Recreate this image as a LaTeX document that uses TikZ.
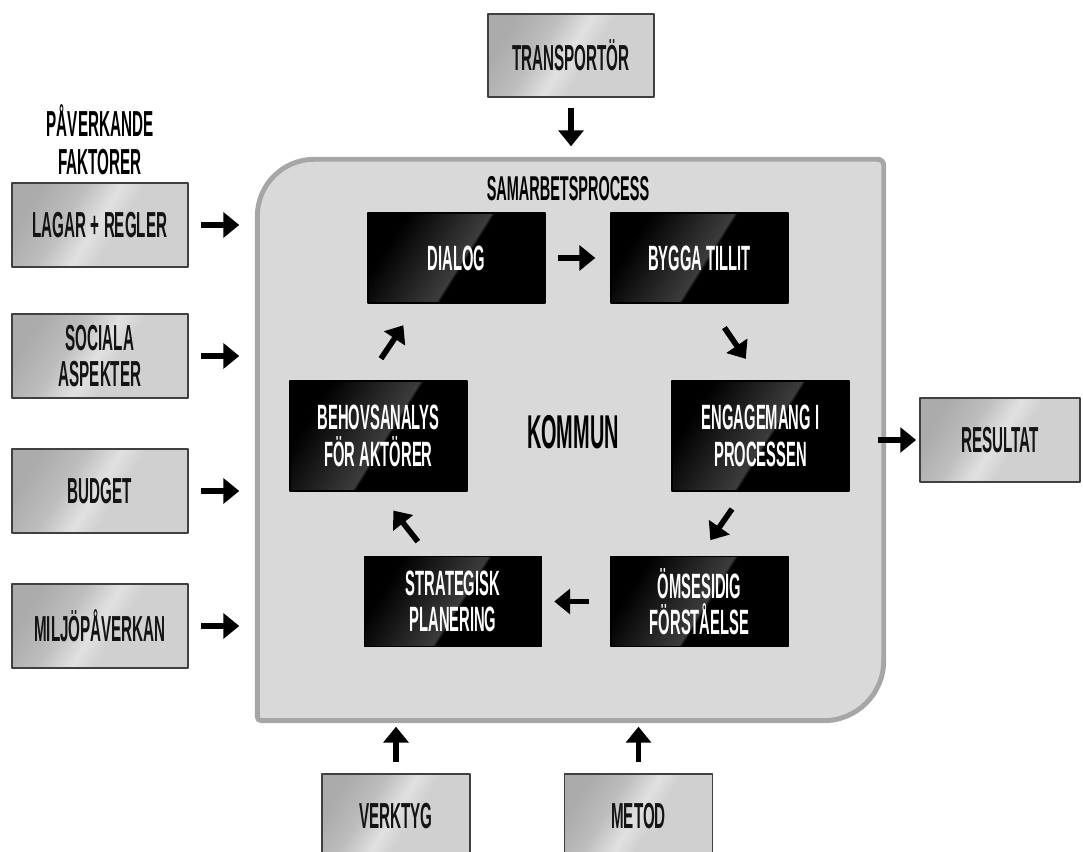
\documentclass[tikz,border=0pt]{standalone}
\usepackage{fontspec}
\newfontfamily\bebas[FakeStretch=0.42]{Liberation Sans}
\usetikzlibrary{arrows.meta}
\definecolor{silverA}{HTML}{ABABAB}
\definecolor{silverB}{HTML}{BDBDBD}
\definecolor{silverC}{HTML}{E1E1E1}
\definecolor{silverD}{HTML}{D0D0D0}
\definecolor{glossA}{HTML}{3C3C3C}
\definecolor{procfill}{HTML}{D9D9D9}
\definecolor{procline}{HTML}{A6A6A6}
\pgfdeclarehorizontalshading{silver}{100bp}{color(0bp)=(silverA); color(25bp)=(silverA); color(38bp)=(silverB); color(49bp)=(silverC); color(56bp)=(silverD); color(100bp)=(silverD)}
\pgfdeclarehorizontalshading{gloss}{100bp}{color(0bp)=(black); color(27bp)=(black); color(52bp)=(glossA); color(53bp)=(black); color(100bp)=(black)}
\tikzset{
  gbox/.style={draw=black!75,line width=.5pt,shade,shading=silver,shading angle=-32,minimum width=1.76cm,minimum height=.84cm,inner sep=0pt,align=center,text=black!92,font=\bebas\bfseries\fontsize{10.3}{10.1}\selectfont},
  bbox/.style={draw=black,shade,shading=gloss,shading angle=-32,minimum width=1.77cm,minimum height=.9cm,inner sep=0pt,align=center,text=white,font=\bebas\bfseries\fontsize{10}{10.4}\selectfont},
  arr/.style={line width=1.6pt,-{Triangle[width=7pt,length=4.5pt]}},
}
\begin{document}
\begin{tikzpicture}[line join=round]
  \useasboundingbox (0,0) rectangle (10.83,8.52);
  % samarbetsprocess
  \node[minimum width=6.25cm,minimum height=5.6cm,inner sep=0pt] (proc) at (5.705,4.12) {};
  \draw[line width=1.4pt,draw=procline,fill=procfill] ([yshift=.04cm]proc.south west)
    -- ([yshift=-.57cm]proc.north west) arc[start angle=180,end angle=90,radius=.57]
    -- ([xshift=-.06cm]proc.north east) arc[start angle=90,end angle=0,radius=.06]
    -- ([yshift=.6cm]proc.south east) arc[start angle=0,end angle=-90,radius=.6]
    -- ([xshift=.04cm]proc.south west) arc[start angle=270,end angle=180,radius=.04] -- cycle;
  \node[font=\bebas\bfseries\fontsize{9.8}{10}\selectfont] (samarb) at (5.68,6.63) {SAMARBETSPROCESS};
  \node[font=\bebas\bfseries\fontsize{13.5}{14}\selectfont] (kommun) at (5.73,4.20) {KOMMUN};
  % faktorer
  \node[font=\bebas\bfseries\fontsize{10.3}{10.8}\selectfont,align=center] (title) at (1.00,7.125) {PÅVERKANDE\\FAKTORER};
  \foreach \n/\y/\t in {lagar/6.27/LAGAR + REGLER,sociala/4.96/SOCIALA\\ASPEKTER,budget/3.61/BUDGET,miljo/2.26/MILJÖPÅVERKAN}{
    \node[gbox] (\n) at (1.00,\y) {\t};
    \draw[arr,shorten <=.12cm,shorten >=.18cm] (\n) -- (\n -| proc.west);}
  \node[gbox,minimum width=1.66cm,minimum height=.83cm] (transp) at (5.71,7.965) {TRANSPORTÖR};
  \draw[arr,shorten <=.10cm,shorten >=.13cm] (transp) -- (transp |- proc.north);
  \node[gbox,minimum width=1.48cm] (verktyg) at (3.96,.36) {VERKTYG};
  \node[gbox,minimum width=1.48cm] (metod) at (6.385,.36) {METOD};
  \foreach \n in {verktyg,metod}{
    \draw[arr,shorten <=.11cm,shorten >=.06cm] (\n) -- (\n |- proc.south);}
  \node[gbox,minimum width=1.6cm] (result) at (10.0,4.12) {RESULTAT};
  % cykel
  \node[bbox] (dialog) at (4.565,5.94) {DIALOG};
  \node[bbox] (tillit) at (6.995,5.94) {BYGGA TILLIT};
  \node[bbox,minimum height=1.1cm] (engag) at (7.605,4.16) {ENGAGEMANG I\\PROCESSEN};
  \node[bbox] (forst) at (6.995,2.505) {ÖMSESIDIG\\FÖRSTÅELSE};
  \node[bbox] (plan) at (4.53,2.505) {STRATEGISK\\PLANERING};
  \node[bbox,minimum height=1.1cm] (behov) at (3.785,4.16) {BEHOVSANALYS\\FÖR AKTÖRER};
  \draw[arr,shorten <=.12cm,shorten >=.15cm] (dialog) -- (tillit);
  \draw[arr,shorten <=.29cm,shorten >=.26cm] ([xshift=.085cm]tillit.south) -- (engag.north);
  \draw[arr,shorten <=.21cm,shorten >=.19cm] ([xshift=-.165cm]engag.south) -- (forst.north);
  \draw[arr,shorten <=.21cm,shorten >=.12cm] (forst) -- (plan);
  \draw[arr,shorten <=.18cm,shorten >=.24cm] ([xshift=-.24cm]plan.north) -- (behov.south);
  \draw[arr,shorten <=.26cm,shorten >=.26cm] ([xshift=-.12cm]behov.north) -- ([xshift=-.387cm]dialog.south);
  \draw[arr,shorten <=.28cm,shorten >=.03cm] (engag.east |- result.west) -- (result.west);
\end{tikzpicture}
\end{document}
